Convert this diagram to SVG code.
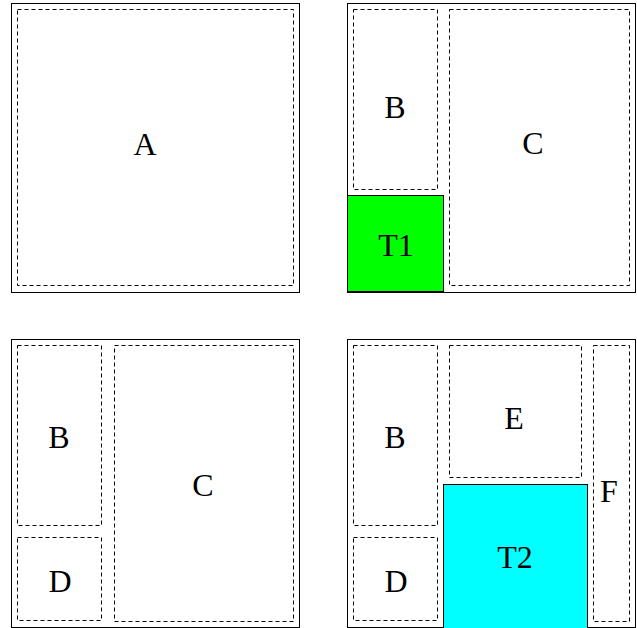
<svg xmlns="http://www.w3.org/2000/svg" width="637" height="628" viewBox="0 0 637 628">
  <style>
    .frame { fill: none; stroke: #000; stroke-width: 1; }
    .area { fill: none; stroke: #000; stroke-width: 1; stroke-dasharray: 4 3; }
    .tile { stroke: #000; stroke-width: 1; }
    .lbl { font-family: "Liberation Serif", "Times New Roman", serif; font-size: 32px; fill: #000; text-anchor: middle; }
  </style>
  <rect width="637" height="628" fill="#fff"/>

  <!-- panel 1: single area A -->
  <g id="panel1">
    <rect class="frame" x="11.5" y="3.5" width="288" height="289"/>
    <g id="A">
      <rect class="area" x="17.5" y="9.5" width="276" height="276"/>
      <text class="lbl" x="145" y="155">A</text>
    </g>
  </g>

  <!-- panel 2: B, C and tile T1 -->
  <g id="panel2">
    <rect class="frame" x="347.5" y="3.5" width="288" height="289"/>
    <g id="B1">
      <rect class="area" x="353.5" y="9.5" width="84" height="180"/>
      <text class="lbl" x="395" y="118">B</text>
    </g>
    <g id="C1">
      <rect class="area" x="449.5" y="9.5" width="180" height="276"/>
      <text class="lbl" x="533" y="154">C</text>
    </g>
    <g id="T1">
      <rect class="tile" x="347.5" y="195.5" width="96" height="96" fill="#00ff00"/>
      <text class="lbl" x="396" y="256">T1</text>
    </g>
  </g>

  <!-- panel 3: B, D, C -->
  <g id="panel3">
    <rect class="frame" x="11.5" y="339.5" width="288" height="288"/>
    <g id="B2">
      <rect class="area" x="17.5" y="345.5" width="84" height="180"/>
      <text class="lbl" x="59" y="448">B</text>
    </g>
    <g id="D2">
      <rect class="area" x="17.5" y="537.5" width="84" height="83"/>
      <text class="lbl" x="60" y="592">D</text>
    </g>
    <g id="C2">
      <rect class="area" x="114.5" y="345.5" width="179" height="276"/>
      <text class="lbl" x="203" y="496">C</text>
    </g>
  </g>

  <!-- panel 4: B, D, E, F and tile T2 -->
  <g id="panel4">
    <rect class="frame" x="347.5" y="339.5" width="288" height="288"/>
    <g id="B3">
      <rect class="area" x="353.5" y="345.5" width="84" height="180"/>
      <text class="lbl" x="395" y="448">B</text>
    </g>
    <g id="D3">
      <rect class="area" x="353.5" y="537.5" width="84" height="83"/>
      <text class="lbl" x="396" y="592">D</text>
    </g>
    <g id="E">
      <rect class="area" x="449.5" y="345.5" width="132" height="132"/>
      <text class="lbl" x="514" y="429">E</text>
    </g>
    <g id="F">
      <rect class="area" x="593.5" y="345.5" width="36" height="276"/>
      <text class="lbl" x="609" y="502">F</text>
    </g>
    <g id="T2">
      <rect class="tile" x="443.5" y="484.5" width="144" height="144" fill="#00ffff"/>
      <text class="lbl" x="515" y="568">T2</text>
    </g>
  </g>

  <g id="connectors"/>
</svg>
